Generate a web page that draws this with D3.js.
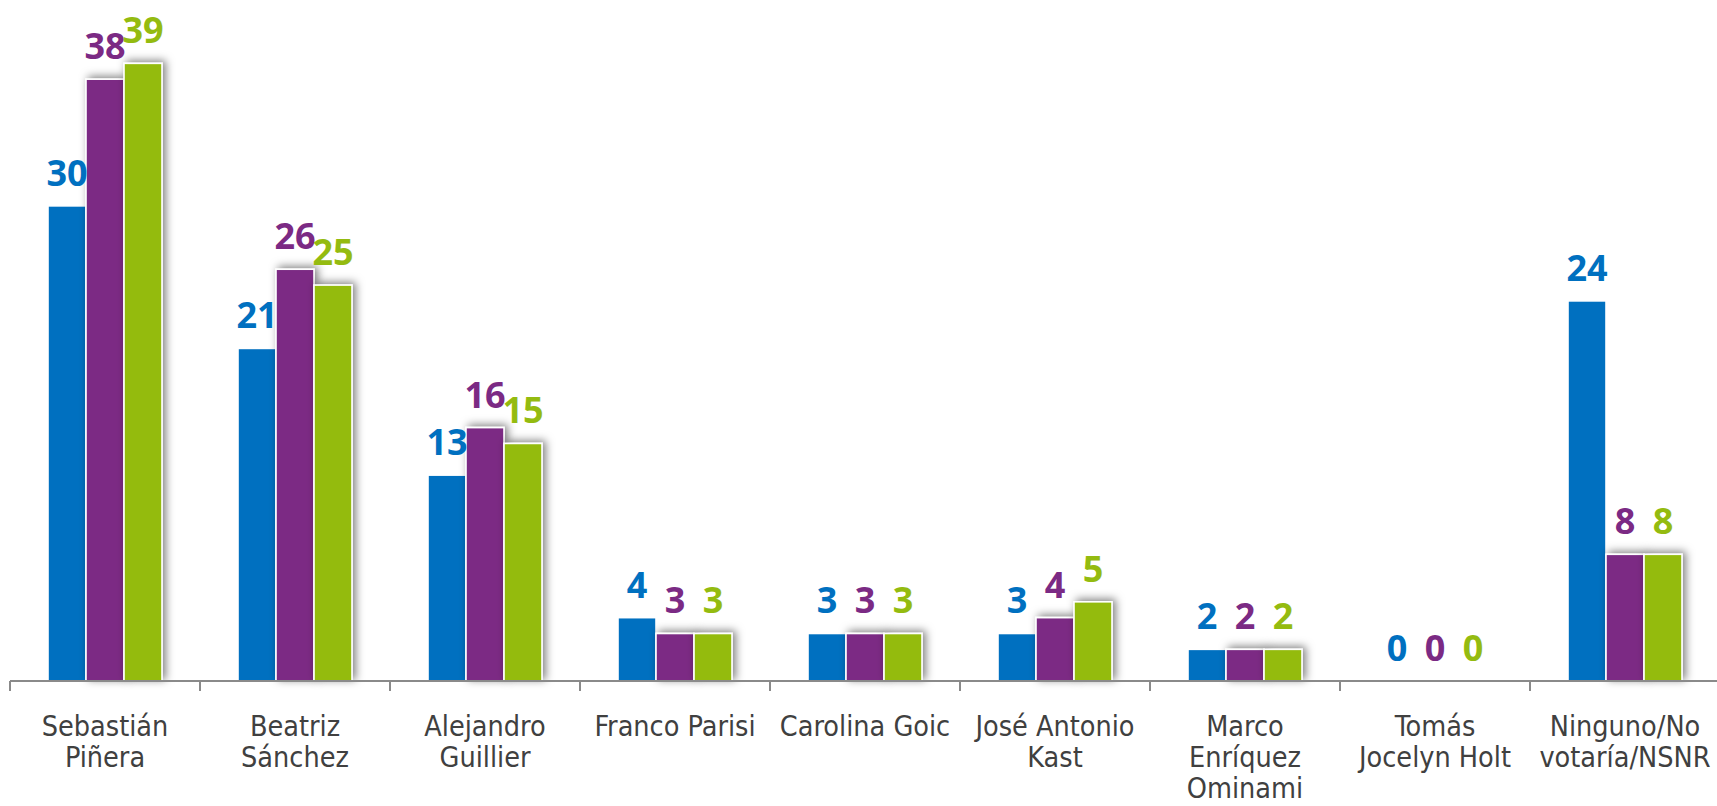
<!DOCTYPE html>
<html>
<head>
<meta charset="utf-8">
<script src="https://cdn.jsdelivr.net/npm/d3@7"></script>
<style>
  html, body { margin: 0; padding: 0; background: #ffffff; overflow: hidden; }
  svg { display: block; }
</style>
</head>
<body>
<svg id="chart" width="1717" height="806"></svg>
<script>
const categories = [
  ["Sebastián", "Piñera"],
  ["Beatriz", "Sánchez"],
  ["Alejandro", "Guillier"],
  ["Franco Parisi"],
  ["Carolina Goic"],
  ["José Antonio", "Kast"],
  ["Marco", "Enríquez", "Ominami"],
  ["Tomás", "Jocelyn Holt"],
  ["Ninguno/No", "votaría/NSNR"]
];
const seriesNames = ["Serie 1", "Serie 2", "Serie 3"];
const series1 = [30, 21, 13, 4, 3, 3, 2, 0, 24];
const series2 = [38, 26, 16, 3, 3, 4, 2, 0, 8];
const series3 = [39, 25, 15, 3, 3, 5, 2, 0, 8];
const seriesColors = ["#0070C0", "#7B2A84", "#94BB10"];
const seriesShadow = [false, true, true];

const allSeries = [series1, series2, series3];
const keys = categories.map(c => c.join(" "));

const svg = d3.select("#chart");
const defs = svg.append("defs");
const f = defs.append("filter").attr("id", "shadow")
  .attr("x", "-50%").attr("y", "-50%").attr("width", "200%").attr("height", "200%");
f.append("feDropShadow").attr("dx", 3).attr("dy", -2).attr("stdDeviation", 4)
  .attr("flood-color", "#000").attr("flood-opacity", 0.5);

const baseY = 681;
const step = 190;
const x0 = d3.scaleBand().domain(keys).range([10, 10 + 9 * step]).padding(0);
const x1 = d3.scaleBand().domain(seriesNames)
  .range([x0.bandwidth() * 0.2, x0.bandwidth() * 0.8]).padding(0);
const y = d3.scaleLinear().domain([0, 43]).range([baseY, 0]);

// bars
allSeries.forEach((vals, si) => {
  const g = svg.append("g");
  if (seriesShadow[si]) g.attr("filter", "url(#shadow)");
  g.selectAll("rect").data(vals.map((v, i) => ({ v, i }))).enter()
    .filter(d => d.v > 0)
    .append("rect")
    .attr("x", d => x0(keys[d.i]) + x1(seriesNames[si]))
    .attr("y", d => y(d.v))
    .attr("width", x1.bandwidth())
    .attr("height", d => baseY - y(d.v))
    .attr("fill", seriesColors[si])
    .attr("stroke", "#ffffff")
    .attr("stroke-width", 1.6);
});

// axis
const axisG = svg.append("g").attr("transform", `translate(0,${baseY})`);
axisG.append("line").attr("x1", 10).attr("x2", 10 + 9 * step)
  .attr("y1", 0).attr("y2", 0).attr("stroke", "#8a8a8a").attr("stroke-width", 2);
const tickXs = keys.map(k => x0(k)).concat([x0(keys[keys.length - 1]) + x0.bandwidth()]);
axisG.selectAll("line.tick").data(tickXs).enter().append("line")
  .attr("class", "tick")
  .attr("x1", d => d).attr("x2", d => d).attr("y1", 0).attr("y2", 10)
  .attr("stroke", "#8a8a8a").attr("stroke-width", 2);

// category labels
const catG = svg.append("g");
categories.forEach((lines, i) => {
  const cx = x0(keys[i]) + x0.bandwidth() / 2;
  const t = catG.append("text")
    .attr("x", cx)
    .attr("y", 736)
    .attr("text-anchor", "middle")
    .attr("font-family", "'DejaVu Sans Condensed', 'DejaVu Sans', sans-serif")
    .attr("font-stretch", "condensed")
    .attr("font-size", 28.5)
    .attr("fill", "#404040");
  lines.forEach((ln, li) => {
    t.append("tspan").attr("x", cx)
      .attr("dy", li === 0 ? 0 : 31).text(ln);
  });
});

// value labels
allSeries.forEach((vals, si) => {
  svg.append("g").selectAll("text").data(vals.map((v, i) => ({ v, i }))).enter()
    .append("text")
    .attr("x", d => x0(keys[d.i]) + x1(seriesNames[si]) + x1.bandwidth() / 2)
    .attr("y", d => y(d.v) - 20)
    .attr("text-anchor", "middle")
    .attr("font-family", "'Open Sans', sans-serif")
    .attr("font-weight", "bold")
    .attr("font-size", 36)
    .attr("fill", seriesColors[si])
    .text(d => d.v);
});
</script>
</body>
</html>
